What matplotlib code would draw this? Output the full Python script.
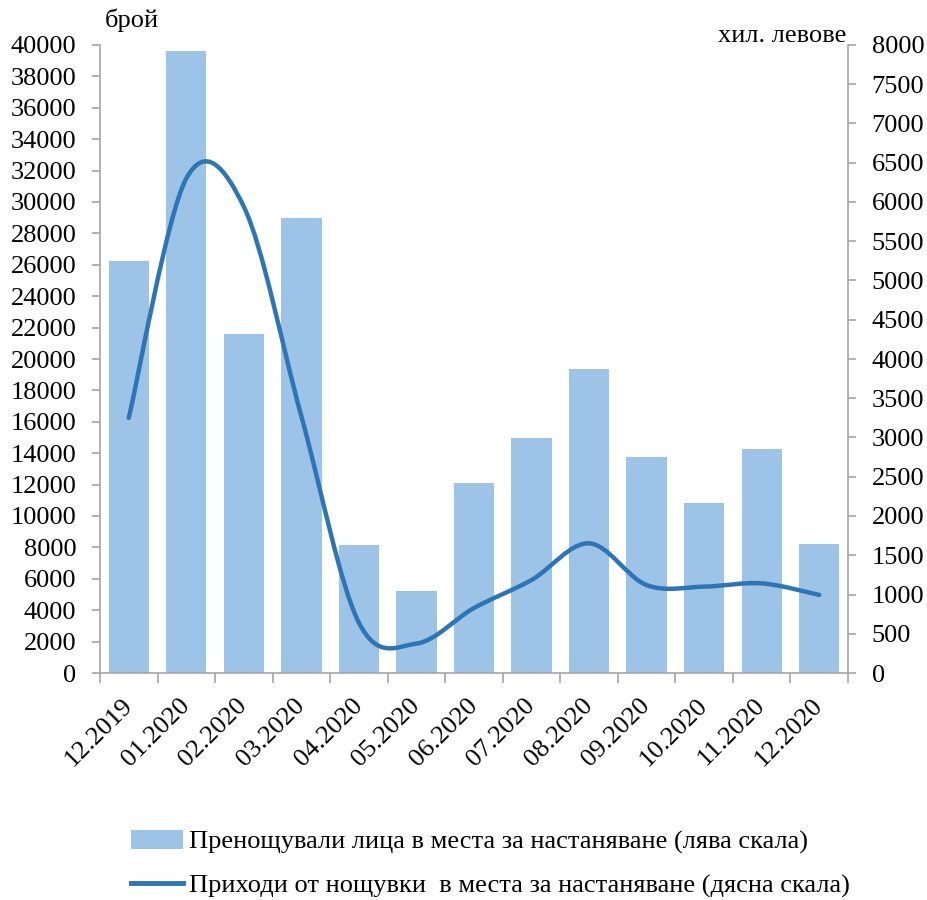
import matplotlib
matplotlib.use("Agg")
import matplotlib.pyplot as plt
from matplotlib.path import Path
from matplotlib.patches import PathPatch, Patch
from matplotlib.lines import Line2D
import numpy as np

plt.rcParams['font.family'] = ['Liberation Serif', 'DejaVu Serif']

categories = ["12.2019", "01.2020", "02.2020", "03.2020", "04.2020", "05.2020",
              "06.2020", "07.2020", "08.2020", "09.2020", "10.2020", "11.2020", "12.2020"]
guests = [26250, 39600, 21600, 29000, 8150, 5250, 12100, 14950, 19350, 13750, 10800, 14250, 8200]
revenue = [3250, 6300, 5940, 3270, 640, 375, 828, 1185, 1652, 1120, 1100, 1142, 995]

bar_label = "Пренощували лица в места за настаняване (лява скала)"
line_label = "Приходи от нощувки  в места за настаняване (дясна скала)"
left_unit = "брой"
right_unit = "хил. левове"

bar_color = "#9DC3E6"
line_color = "#2E75B6"
axis_color = "#A6A6A6"
fs = 19

fig = plt.figure(figsize=(9.27, 9.0), dpi=100)
ax = fig.add_axes([100/927, 1-673/900, (848-100)/927, (673-45)/900])
ax2 = ax.twinx()

x = np.arange(len(categories))
ax.bar(x, guests, width=0.7, color=bar_color, zorder=2)
ax.set_xlim(-0.5, len(categories) - 0.5)
ax.set_ylim(0, 40000)
ax.set_yticks(np.arange(0, 40001, 2000))
ax2.set_ylim(0, 8000)
ax2.set_yticks(np.arange(0, 8001, 500))

# Smoothed line (Catmull-Rom style Bezier through data points, like Excel's smooth line)
pts = np.column_stack([x, revenue]).astype(float)
verts = [tuple(pts[0])]
codes = [Path.MOVETO]
n = len(pts)
for i in range(n - 1):
    p0 = pts[i - 1] if i > 0 else pts[i]
    p1 = pts[i]
    p2 = pts[i + 1]
    p3 = pts[i + 2] if i + 2 < n else pts[i + 1]
    c1 = p1 + (p2 - p0) / 6.0
    c2 = p2 - (p3 - p1) / 6.0
    verts += [tuple(c1), tuple(c2), tuple(p2)]
    codes += [Path.CURVE4, Path.CURVE4, Path.CURVE4]
path = Path(verts, codes)
ax2.add_patch(PathPatch(path, facecolor='none', edgecolor=line_color, lw=3.2,
                        capstyle='round', joinstyle='round', zorder=3))

for a in (ax, ax2):
    a.spines['top'].set_visible(False)
    for s in ('left', 'right', 'bottom'):
        a.spines[s].set_color(axis_color)
        a.spines[s].set_linewidth(1.2)
ax.spines['right'].set_visible(False)
ax2.spines['left'].set_visible(False)
ax2.spines['bottom'].set_visible(False)

ax.tick_params(axis='y', colors=axis_color, length=6, width=1.2, direction='out', pad=11,
               labelcolor='black', labelsize=fs)
ax2.tick_params(axis='y', colors=axis_color, length=6, width=1.2, direction='out', pad=11,
                labelcolor='black', labelsize=fs)

# x axis: major ticks at category boundaries, labels at centres
ax.set_xticks(np.arange(-0.5, len(categories), 1.0))
ax.set_xticklabels([])
ax.set_xticks(x, minor=True)
ax.set_xticklabels(categories, minor=True, rotation=45, ha='right', va='center',
                   rotation_mode='anchor', fontsize=fs)
ax.tick_params(axis='x', which='major', colors=axis_color, length=7, width=1.2)
ax.tick_params(axis='x', which='minor', length=0, pad=21, labelcolor='black')

fig.text(105/927, 1-20/900, left_unit, fontsize=fs, ha='left', va='center')
fig.text(846/927, 1-36/900, right_unit, fontsize=fs, ha='right', va='center')

handles = [Patch(facecolor=bar_color, edgecolor='none'),
           Line2D([0], [0], color=line_color, lw=3.5)]
fig.legend(handles, [bar_label, line_label], loc='center',
           bbox_to_anchor=(490/927, 1-864/900), frameon=False, fontsize=fs,
           handlelength=2.0, handleheight=0.7, handletextpad=0.2, labelspacing=0.75)

fig.savefig("out.png", dpi=100)
